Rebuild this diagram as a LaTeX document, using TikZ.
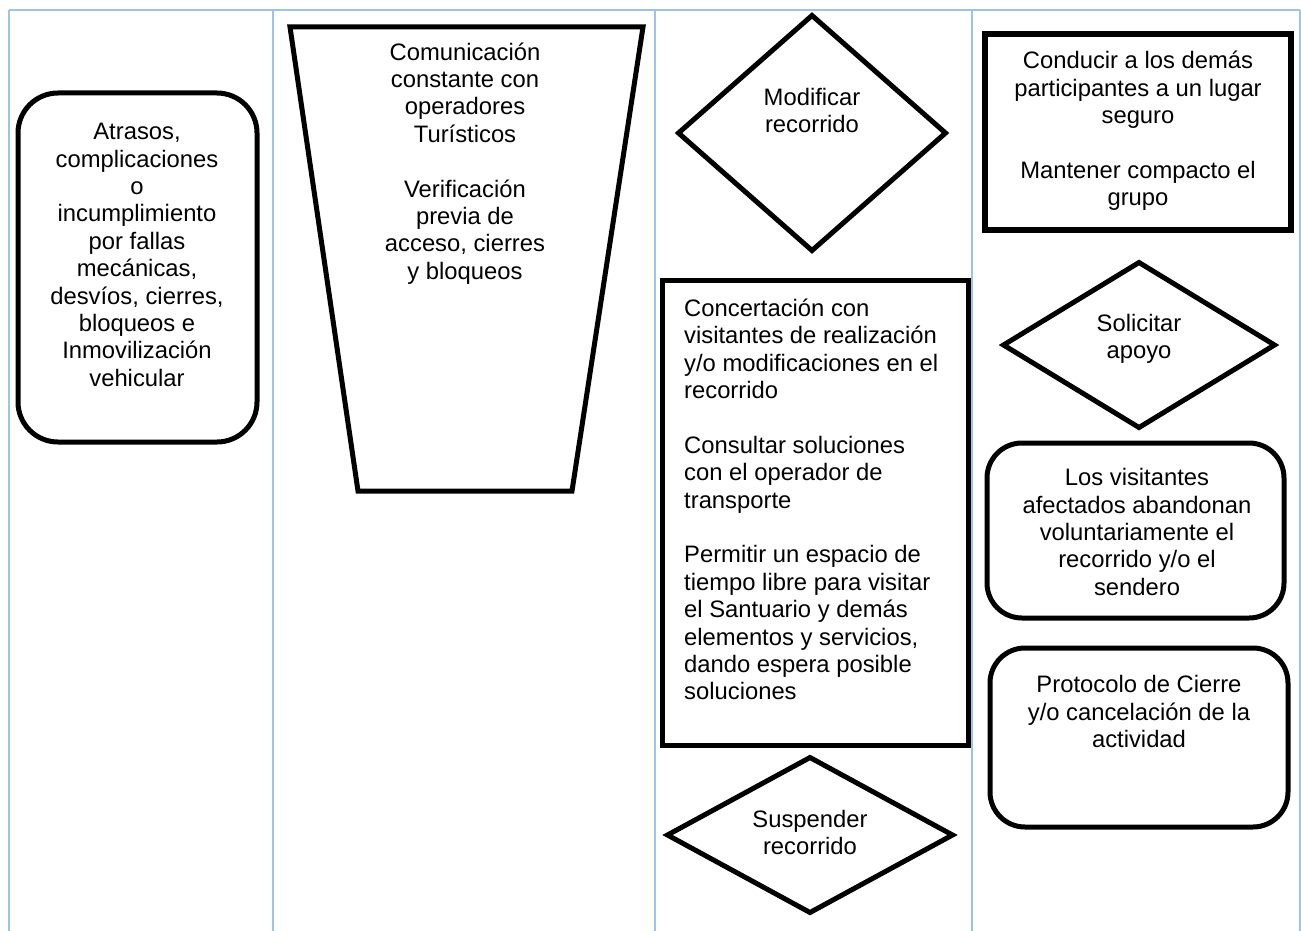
\documentclass[tikz,border=0pt]{standalone}
\usepackage{fontspec}
\setmainfont{Liberation Sans}
\usetikzlibrary{shapes.geometric}
\definecolor{gridblue}{RGB}{157,195,230}
\begin{document}
\begin{tikzpicture}[x=1pt,y=-1pt,
  grid/.style={draw=gridblue, line width=2pt},
  shp/.style={draw=black, line width=5pt, inner sep=0pt, outer sep=0pt},
  dia/.style={shp, diamond, shape aspect=1},
  txt/.style={align=center, font=\fontsize{23.8}{27.4}\selectfont, inner sep=0pt},
]
\useasboundingbox (0,0) rectangle (1301,931);
% table lines
\draw[grid] (9,10) -- (1300,10);
\foreach \x in {9,273,655,972,1300} \draw[grid] (\x,10) -- (\x,931);

% column 1
\node[shp, rounded corners=40pt, minimum width=239pt, minimum height=349pt] (b1) at (137.5,267.5) {};
\node[txt] (t1) at (137,255) {Atrasos,\\complicaciones\\o\\incumplimiento\\por fallas\\mecánicas,\\desvíos, cierres,\\bloqueos e\\Inmovilización\\vehicular};

% column 2
\coordinate (tz1) at (290,27);
\coordinate (tz2) at (643,27);
\coordinate (tz3) at (572,491);
\coordinate (tz4) at (358,491);
\draw[line width=5pt, line join=miter] (tz1) -- (tz2) -- (tz3) -- (tz4) -- cycle;
\node[txt] (t2) at (465,163.5) {Comunicación\\constante con\\operadores\\Turísticos\\[27.4pt]Verificación\\previa de\\acceso, cierres\\y bloqueos};

% column 3
\node[dia, minimum width=267pt, minimum height=235pt] (d1) at (812,133) {};
\node[txt] (t3) at (812,110.5) {Modificar\\recorrido};
\node[shp, minimum width=306pt, minimum height=465pt] (b4) at (815,512.5) {};
\node[txt, align=left, anchor=west] (t4) at (684,499.5) {Concertación con\\visitantes de realización\\y/o modificaciones en el\\recorrido\\[27.4pt]Consultar soluciones\\con el operador de\\transporte\\[27.4pt]Permitir un espacio de\\tiempo libre para visitar\\el Santuario y demás\\elementos y servicios,\\dando espera posible\\soluciones};
\node[dia, minimum width=285pt, minimum height=155pt] (d2) at (810,835) {};
\node[txt] (t5) at (810,832.5) {Suspender\\recorrido};

% column 4
\node[shp, line width=6pt, minimum width=306pt, minimum height=196pt] (b6) at (1138,132) {};
\node[txt] (t6) at (1138,131) {Conducir a los demás\\participantes a un lugar\\seguro\\[27.4pt]Mantener compacto el\\grupo};
\node[dia, minimum width=271pt, minimum height=165pt] (d3) at (1139,345) {};
\node[txt] (t7) at (1139,339) {Solicitar\\apoyo};
\node[shp, rounded corners=35pt, minimum width=297pt, minimum height=175pt] (b8) at (1135.5,530.5) {};
\node[txt] (t8) at (1137,532) {Los visitantes\\afectados abandonan\\voluntariamente el\\recorrido y/o el\\sendero};
\node[shp, rounded corners=35pt, minimum width=298pt, minimum height=179pt] (b9) at (1139,737.5) {};
\node[txt] (t9) at (1139,711.5) {Protocolo de Cierre\\y/o cancelación de la\\actividad};
\end{tikzpicture}
\end{document}
